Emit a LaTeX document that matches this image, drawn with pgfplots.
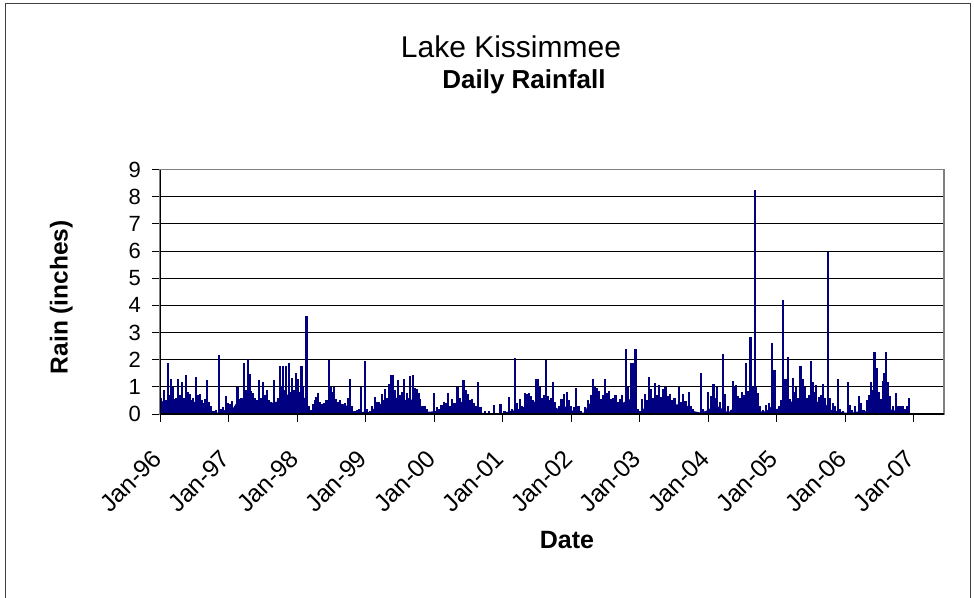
\documentclass[border=0pt]{standalone}
\usepackage{fontspec}
\setmainfont{Liberation Sans}
\usepackage{pgfplots}
\usepackage{pgfplotstable}
\pgfplotsset{compat=1.18}
\definecolor{navy}{RGB}{0,0,128}
\pgfplotstableread{
x y
1996.005 1.45
1996.02 0.6
1996.04 0.3
1996.06 0.9
1996.08 0.5
1996.117 1.89
1996.14 0.7
1996.166 1.3
1996.19 0.98
1996.21 0.55
1996.235 0.6
1996.263 1.28
1996.29 0.7
1996.32 1.18
1996.345 0.6
1996.38 1.43
1996.40 0.8
1996.43 0.73
1996.455 0.5
1996.48 0.6
1996.505 0.45
1996.53 1.38
1996.555 0.7
1996.58 0.73
1996.61 0.5
1996.64 0.4
1996.665 0.55
1996.69 1.26
1996.715 0.45
1996.745 0.3
1996.78 0.12
1996.82 0.15
1996.861 2.16
1996.89 0.2
1996.925 0.25
1996.959 0.67
1996.99 0.4
1997.02 0.35
1997.05 0.49
1997.08 0.2
1997.13 0.98
1997.16 0.55
1997.19 0.6
1997.226 1.87
1997.25 0.9
1997.285 2.04
1997.31 1.46
1997.33 0.85
1997.36 0.79
1997.38 0.6
1997.41 0.5
1997.44 1.26
1997.47 0.6
1997.5 1.16
1997.53 0.7
1997.56 0.89
1997.59 0.5
1997.62 0.45
1997.664 1.26
1997.69 0.24
1997.72 0.6
1997.747 1.77
1997.77 1.0
1997.795 1.77
1997.82 0.9
1997.845 1.77
1997.88 1.89
1997.90 0.8
1997.93 1.34
1997.95 0.9
1997.99 1.5
1998.01 1.28
1998.03 0.8
1998.065 1.77
1998.09 1.0
1998.11 0.6
1998.14 3.6
1998.17 0.3
1998.2 0.15
1998.23 0.37
1998.26 0.5
1998.28 0.61
1998.31 0.77
1998.34 0.43
1998.37 0.35
1998.40 0.4
1998.43 0.5
1998.468 1.98
1998.49 0.99
1998.52 0.8
1998.54 0.98
1998.57 0.55
1998.60 0.45
1998.63 0.5
1998.66 0.35
1998.70 0.4
1998.74 0.6
1998.774 1.28
1998.80 0.28
1998.84 0.1
1998.88 0.15
1998.91 0.2
1998.94 0.98
1998.998 1.96
1999.02 0.18
1999.06 0.1
1999.10 0.3
1999.14 0.61
1999.17 0.43
1999.2 0.45
1999.235 0.73
1999.26 0.5
1999.29 0.91
1999.32 0.6
1999.35 1.1
1999.378 1.43
1999.40 1.43
1999.43 0.89
1999.47 1.26
1999.50 0.7
1999.53 0.8
1999.56 1.28
1999.6 0.79
1999.62 0.6
1999.65 1.4
1999.69 1.43
1999.72 0.94
1999.75 0.91
1999.78 0.79
1999.80 0.55
1999.83 0.3
1999.86 0.3
1999.9 0.2
2000.0 0.79
2000.04 0.24
2000.08 0.2
2000.11 0.33
2000.14 0.43
2000.17 0.4
2000.2 0.77
2000.23 0.3
2000.26 0.57
2000.30 0.4
2000.33 0.98
2000.355 0.98
2000.38 0.6
2000.43 1.26
2000.46 0.89
2000.49 0.73
2000.52 0.5
2000.55 0.55
2000.58 0.4
2000.61 0.3
2000.648 1.16
2000.68 0.24
2000.75 0.1
2000.80 0.12
2000.87 0.33
2000.95 0.05
2000.97 0.37
2001.03 0.1
2001.1 0.61
2001.14 0.2
2001.18 2.06
2001.21 0.4
2001.25 0.55
2001.28 0.3
2001.33 0.79
2001.36 0.73
2001.39 0.79
2001.42 0.67
2001.45 0.5
2001.49 1.28
2001.52 1.3
2001.55 0.99
2001.58 0.6
2001.61 0.7
2001.635 1.98
2001.66 0.67
2001.69 0.5
2001.715 0.6
2001.74 1.18
2001.77 0.43
2001.82 0.3
2001.86 0.55
2001.90 0.73
2001.94 0.82
2001.97 0.5
2002.0 0.3
2002.04 0.25
2002.07 0.94
2002.11 0.28
2002.15 0.1
2002.2 0.24
2002.25 0.5
2002.29 0.7
2002.32 1.28
2002.35 0.99
2002.38 0.94
2002.41 0.85
2002.44 0.55
2002.47 0.7
2002.5 1.3
2002.53 0.77
2002.56 0.85
2002.59 0.55
2002.62 0.6
2002.65 0.7
2002.68 0.45
2002.71 0.55
2002.74 0.7
2002.8 2.38
2002.83 1.0
2002.87 1.89
2002.9 1.89
2002.94 2.4
2002.97 0.18
2003.0 0.1
2003.04 0.55
2003.08 0.73
2003.11 0.5
2003.14 1.38
2003.17 0.91
2003.2 0.6
2003.23 1.13
2003.26 0.7
2003.29 1.06
2003.32 0.61
2003.35 0.91
2003.38 0.99
2003.42 0.67
2003.45 0.73
2003.48 0.5
2003.51 0.6
2003.58 0.98
2003.61 0.43
2003.64 0.73
2003.67 0.49
2003.72 0.82
2003.75 0.3
2003.78 0.2
2003.9 1.5
2003.93 0.18
2003.97 0.1
2004.0 0.82
2004.04 0.67
2004.08 1.1
2004.11 0.6
2004.13 0.99
2004.17 0.43
2004.22 2.2
2004.25 0.73
2004.29 0.3
2004.33 0.15
2004.36 1.22
2004.38 0.99
2004.41 1.06
2004.44 0.67
2004.47 0.6
2004.5 0.8
2004.53 0.7
2004.56 1.87
2004.59 0.85
2004.62 2.84
2004.65 1.0
2004.68 8.25
2004.7 1.0
2004.73 0.79
2004.76 0.3
2004.8 0.15
2004.85 0.33
2004.89 0.4
2004.93 2.6
2004.97 1.62
2005.0 0.18
2005.04 0.3
2005.07 0.5
2005.1 4.2
2005.13 1.3
2005.17 2.1
2005.2 0.57
2005.24 1.34
2005.27 0.8
2005.29 0.99
2005.32 0.6
2005.35 1.77
2005.38 1.28
2005.41 0.98
2005.44 0.6
2005.47 0.7
2005.5 1.95
2005.53 1.16
2005.56 0.8
2005.58 1.06
2005.62 0.61
2005.65 0.7
2005.68 1.1
2005.71 0.6
2005.757 5.95
2005.78 0.6
2005.82 0.4
2005.85 0.3
2005.9 1.3
2005.93 0.18
2005.97 0.1
2006.04 1.16
2006.07 0.33
2006.1 0.15
2006.14 0.28
2006.2 0.67
2006.23 0.4
2006.27 0.15
2006.32 0.5
2006.35 0.7
2006.38 1.16
2006.41 0.9
2006.43 2.28
2006.46 1.71
2006.49 0.8
2006.52 0.55
2006.55 1.2
2006.57 1.5
2006.6 2.28
2006.63 1.16
2006.66 0.67
2006.7 0.3
2006.74 0.77
2006.77 0.3
2006.8 0.28
2006.84 0.28
2006.87 0.2
2006.9 0.3
2006.93 0.6
}\spikes
\pgfplotstableread{
x y
1996.0 0.45
1996.1 0.5
1996.2 0.45
1996.3 0.45
1996.4 0.5
1996.5 0.45
1996.6 0.4
1996.7 0.35
1996.75 0.1
1996.85 0.05
1996.95 0.15
1997.05 0.15
1997.1 0.35
1997.2 0.55
1997.3 0.65
1997.4 0.5
1997.5 0.45
1997.6 0.4
1997.7 0.45
1997.8 0.65
1997.9 0.75
1998.0 0.8
1998.1 0.65
1998.16 0.1
1998.25 0.15
1998.3 0.35
1998.4 0.35
1998.5 0.45
1998.6 0.4
1998.7 0.35
1998.78 0.2
1998.82 0.03
1998.92 0.05
1999.0 0.1
1999.08 0.05
1999.15 0.3
1999.25 0.4
1999.35 0.55
1999.45 0.6
1999.55 0.5
1999.65 0.55
1999.75 0.45
1999.82 0.2
1999.9 0.08
2000.0 0.1
2000.1 0.15
2000.2 0.25
2000.3 0.3
2000.4 0.45
2000.5 0.4
2000.6 0.2
2000.67 0.05
2000.8 0.03
2000.9 0.03
2001.0 0.03
2001.1 0.1
2001.2 0.15
2001.3 0.25
2001.4 0.35
2001.5 0.5
2001.6 0.45
2001.7 0.4
2001.8 0.2
2001.9 0.3
2002.0 0.15
2002.1 0.05
2002.2 0.05
2002.25 0.35
2002.35 0.5
2002.45 0.45
2002.55 0.45
2002.65 0.35
2002.75 0.4
2002.85 0.55
2002.95 0.3
2002.98 0.03
2003.03 0.05
2003.1 0.4
2003.2 0.45
2003.3 0.4
2003.4 0.4
2003.5 0.35
2003.6 0.35
2003.7 0.3
2003.8 0.1
2003.9 0.05
2004.0 0.15
2004.1 0.35
2004.2 0.2
2004.28 0.08
2004.33 0.1
2004.4 0.4
2004.5 0.45
2004.6 0.55
2004.7 0.5
2004.76 0.1
2004.85 0.1
2004.95 0.35
2005.0 0.15
2005.1 0.4
2005.2 0.45
2005.3 0.5
2005.4 0.5
2005.5 0.5
2005.6 0.45
2005.7 0.4
2005.8 0.15
2005.9 0.1
2006.0 0.05
2006.1 0.05
2006.2 0.1
2006.3 0.1
2006.38 0.45
2006.5 0.5
2006.6 0.45
2006.68 0.15
2006.8 0.1
2006.93 0.12
}\base
\begin{document}
\begin{tikzpicture}
\useasboundingbox (0pt,0pt) rectangle (974pt,-597pt);
\draw[line width=1pt, black!75] (5pt,-600pt) -- (5pt,-3.5pt) -- (970.5pt,-3.5pt) -- (970.5pt,-600pt);
\node[anchor=base, font=\fontsize{30}{35}\selectfont] at (511pt,-57pt) {Lake Kissimmee};
\node[anchor=base, font=\bfseries\fontsize{26}{30}\selectfont] at (524pt,-88pt) {Daily Rainfall};
\begin{axis}[
  at={(160pt,-414pt)}, anchor=south west,
  width=784pt, height=244.5pt, scale only axis,
  xmin=1996, xmax=2007.445, ymin=0, ymax=9,
  xtick={1996,1997,1998,1999,2000,2001,2002,2003,2004,2005,2006,2007},
  xticklabels={Jan-96,Jan-97,Jan-98,Jan-99,Jan-00,Jan-01,Jan-02,Jan-03,Jan-04,Jan-05,Jan-06,Jan-07},
  ytick={0,1,2,3,4,5,6,7,8,9},
  /pgf/number format/assume math mode=true,
  yticklabel style={font=\fontsize{22}{25}\selectfont, inner sep=0pt, anchor=east, xshift=-11pt},
  xticklabel style={font=\fontsize{24.5}{28}\selectfont, inner sep=0pt, anchor=north east, xshift=-9pt, yshift=-26pt, rotate=45},
  tick align=outside, major tick length=8pt,
  xtick pos=bottom, ytick pos=left,
  tick style={black, line width=0.9pt},
  ymajorgrids, grid style={black, line width=0.9pt},
  axis line style={draw=gray, line width=1.4pt},
  xlabel={Date}, ylabel={Rain (inches)},
  xlabel style={font=\bfseries\fontsize{25}{29}\selectfont, at={(axis description cs:0.519,-0.552)}, anchor=base},
  ylabel style={font=\bfseries\fontsize{24.5}{29}\selectfont, at={(axis description cs:-0.126,0.478)}, anchor=center},
]
\addplot[fill=navy, draw=none] table[x=x,y=y] {\base} \closedcycle;
\addplot[ycomb, no marks, navy, line width=2.2pt] table[x=x,y=y] {\spikes};
\draw[black, line width=1.1pt] (rel axis cs:0,1) -- (rel axis cs:0,0) -- (rel axis cs:1,0);
\end{axis}
\end{tikzpicture}
\end{document}
